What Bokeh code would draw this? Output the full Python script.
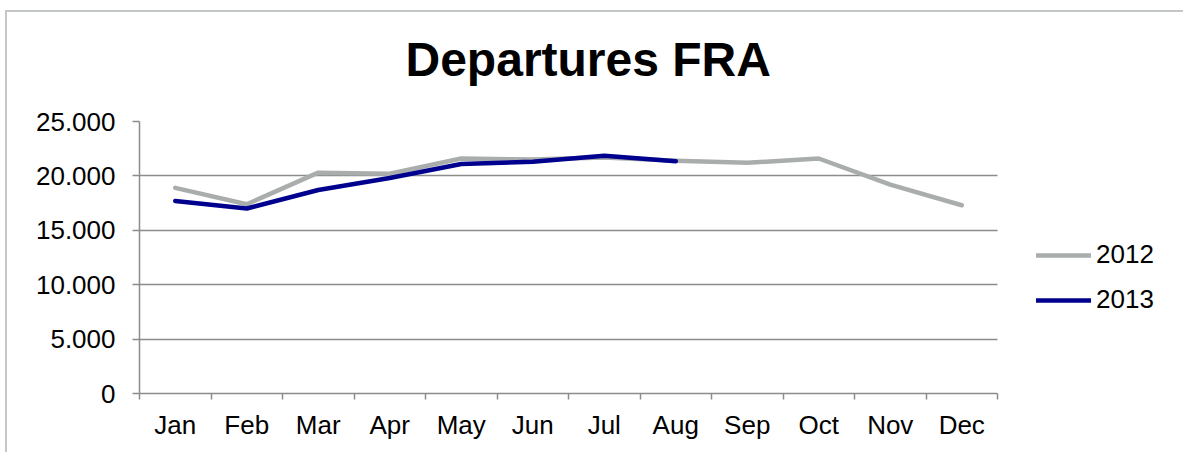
from bokeh.plotting import figure
from bokeh.models import FixedTicker, Legend, LegendItem, ColumnDataSource, Title
from bokeh.embed import file_html
from bokeh.resources import INLINE

months = ["Jan", "Feb", "Mar", "Apr", "May", "Jun", "Jul", "Aug", "Sep", "Oct", "Nov", "Dec"]
dep_2012 = [18900, 17400, 20300, 20200, 21600, 21500, 21700, 21400, 21200, 21600, 19200, 17300]
dep_2013 = [17700, 17000, 18700, 19800, 21100, 21300, 21850, 21350]
y_ticks = [0, 5000, 10000, 15000, 20000, 25000]
y_labels = ["0", "5.000", "10.000", "15.000", "20.000", "25.000"]

FONT = "Liberation Sans"
GRID = "#8c8c8c"
C2012 = "#a9adac"
C2013 = "#00008e"

idx = list(range(1, len(months) + 1))
x_lo, x_hi = 0.5, len(months) + 0.5
# frame continues to the right edge so the legend can sit inside it
px_per_unit = 858 / len(months)
x_end = x_hi + 188 / px_per_unit

p = figure(width=1178, height=442, output_backend="svg", toolbar_location=None,
           x_range=(x_lo, x_end), y_range=(0, 25000),
           min_border_left=132, min_border_right=0, min_border_top=109, min_border_bottom=61)
p.outline_line_color = None
p.background_fill_color = "white"
p.border_fill_color = "white"

p.title.text = "Departures FRA"
p.title.text_font = FONT
p.title.text_font_size = "48px"
p.title.text_font_style = "bold"
p.title.text_color = "black"
p.title.align = "left"
p.title.offset = 266
p.title.standoff = 10

# blank spacer between the title and the plot area
p.add_layout(Title(text=" ", text_font_size="10px", standoff=18), "above")

src12 = ColumnDataSource(dict(x=idx[:len(dep_2012)], y=dep_2012))
src13 = ColumnDataSource(dict(x=idx[:len(dep_2013)], y=dep_2013))
r12 = p.line("x", "y", source=src12, line_color=C2012, line_width=4.5, line_cap="round", line_join="round")
r13 = p.line("x", "y", source=src13, line_color=C2013, line_width=4.5, line_cap="round", line_join="round")

# x axis
xa = p.xaxis[0]
xa.bounds = (x_lo, x_hi)
xa.ticker = FixedTicker(ticks=idx, minor_ticks=[i + 0.5 for i in range(0, 13)])
xa.major_label_overrides = {i: m for i, m in zip(idx, months)}
xa.major_tick_out = 0
xa.major_tick_in = 0
xa.minor_tick_out = 6
xa.minor_tick_in = 0
xa.minor_tick_line_color = GRID
xa.minor_tick_line_width = 1.5
xa.axis_line_color = GRID
xa.axis_line_width = 1.5
xa.major_label_text_font = FONT
xa.major_label_text_font_size = "26px"
xa.major_label_text_color = "black"
xa.major_label_standoff = 10

# y axis
ya = p.yaxis[0]
ya.ticker = FixedTicker(ticks=y_ticks, minor_ticks=[])
ya.major_label_overrides = {t: l for t, l in zip(y_ticks, y_labels)}
ya.major_tick_out = 7
ya.major_tick_in = 0
ya.major_tick_line_color = GRID
ya.major_tick_line_width = 1.5
ya.axis_line_color = GRID
ya.axis_line_width = 1.5
ya.major_label_text_font = FONT
ya.major_label_text_font_size = "26px"
ya.major_label_text_color = "black"
ya.major_label_standoff = 17

p.xgrid.grid_line_color = None
p.ygrid.grid_line_color = GRID
p.ygrid.grid_line_width = 1.5
p.ygrid.cross_bounds = (x_lo, x_hi)

legend = Legend(items=[LegendItem(label="2012", renderers=[r12]),
                       LegendItem(label="2013", renderers=[r13])],
                location=(897, 78), orientation="vertical",
                glyph_width=55, glyph_height=24, label_height=24, spacing=14,
                label_standoff=5, padding=0, margin=0,
                border_line_color=None, background_fill_alpha=0,
                label_text_font=FONT, label_text_font_size="26px", label_text_color="black")
p.add_layout(legend, "center")

p.styles = {"border-top": "2px solid #c3c7c6", "border-left": "2px solid #c3c7c6",
            "margin-top": "10px", "margin-left": "5px"}

open("out.html", "w").write(file_html(p, INLINE))
